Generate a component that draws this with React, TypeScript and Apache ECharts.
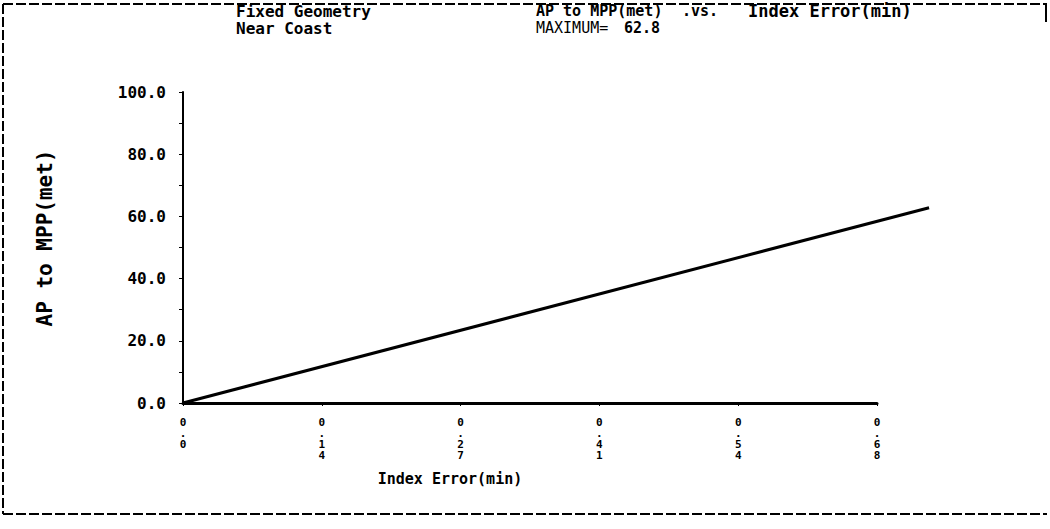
import React, { useEffect, useRef } from "react";
import * as echarts from "echarts";

const xValues = [0, 0.731];
const yValues = [0, 62.8];
const xTickStep = 0.136;
const xAxisMax = 0.68;
const yTickStep = 20;
const yMax = 100;
const titleLeft = ["Fixed Geometry", "Near Coast"];
const titleRight = ["AP to MPP(met)", ".vs.", "Index Error(min)"];
const maxLabel = "MAXIMUM=";
const maxValue = "62.8";
const xName = "Index Error(min)";
const yName = "AP to MPP(met)";

const FONT = "'DejaVu Sans Mono', 'Liberation Mono', monospace";

export default function App() {
  const ref = useRef<HTMLDivElement>(null);
  useEffect(() => {
    if (!ref.current) return;
    const chart = echarts.init(ref.current, null, { renderer: "svg" });
    const txt = (text: string, x: number, y: number, extra: any = {}) => ({
      type: "text",
      x,
      y,
      style: {
        text,
        fill: "#000",
        font: `bold 15px ${FONT}`,
        verticalAlign: "middle",
        ...extra,
      },
    });
    const dash = [10, 3];
    const dataMax = xValues[xValues.length - 1];
    // The plotted curve runs past the end of the drawn axis; grid 0 holds the
    // curve (same px-per-unit as the visible axis), grid 1 holds the visible axes.
    const pxPerUnit = (877 - 183) / xAxisMax;
    const rightData = 1050 - (183 + dataMax * pxPerUnit);
    chart.setOption({
      animation: false,
      backgroundColor: "#fff",
      grid: [
        { left: 183, right: rightData, top: 92, bottom: 126, containLabel: false },
        { left: 183, right: 173, top: 92, bottom: 126, containLabel: false },
      ],
      xAxis: [
        { gridIndex: 0, type: "value", min: 0, max: dataMax, show: false },
        {
          gridIndex: 1,
          type: "value",
          min: 0,
          max: xAxisMax,
          interval: xTickStep,
          axisLine: { show: true, lineStyle: { color: "#000", width: 3 } },
          axisTick: { show: true, length: 3, lineStyle: { color: "#000" } },
          splitLine: { show: false },
          axisLabel: {
            margin: 14,
            color: "#000",
            fontFamily: FONT,
            fontWeight: "bold",
            fontSize: 11,
            lineHeight: 11,
            formatter: (v: number) =>
              (v === 0 ? "0.0" : v.toFixed(2)).split("").join("\n"),
          },
        },
      ],
      yAxis: [
        { gridIndex: 0, type: "value", min: 0, max: yMax, show: false },
        {
          gridIndex: 1,
          type: "value",
          min: 0,
          max: yMax,
          interval: yTickStep,
          axisLine: { show: true, lineStyle: { color: "#000", width: 2 } },
          axisTick: { show: true, length: 4, lineStyle: { color: "#000" } },
          minorTick: { show: true, splitNumber: 2, length: 4, lineStyle: { color: "#000" } },
          splitLine: { show: false },
          axisLabel: {
            margin: 17,
            color: "#000",
            fontFamily: FONT,
            fontWeight: "bold",
            fontSize: 16,
            formatter: (v: number) => v.toFixed(1),
          },
        },
      ],
      series: [
        {
          type: "line",
          xAxisIndex: 0,
          yAxisIndex: 0,
          data: xValues.map((x, i) => [x, yValues[i]]),
          showSymbol: false,
          symbol: "none",
          lineStyle: { color: "#000", width: 3 },
        },
      ],
      graphic: [
        { type: "line", shape: { x1: 3, y1: 4, x2: 1047, y2: 4 }, style: { stroke: "#000", lineWidth: 2, lineDash: dash } },
        { type: "line", shape: { x1: 3, y1: 514, x2: 1047, y2: 514 }, style: { stroke: "#000", lineWidth: 2, lineDash: dash } },
        { type: "line", shape: { x1: 3, y1: 4, x2: 3, y2: 514 }, style: { stroke: "#000", lineWidth: 2, lineDash: dash } },
        { type: "line", shape: { x1: 1046, y1: 4, x2: 1046, y2: 22 }, style: { stroke: "#000", lineWidth: 2 } },
        txt(titleLeft[0], 236, 11, { font: `bold 16px ${FONT}` }),
        txt(titleLeft[1], 236, 28, { font: `bold 16px ${FONT}` }),
        txt(titleRight[0], 536, 11),
        txt(titleRight[1], 682, 11),
        txt(titleRight[2], 748, 11, { font: `bold 17px ${FONT}` }),
        txt(maxLabel, 536, 28, { font: `15px ${FONT}` }),
        txt(maxValue, 624, 28),
        txt(xName, 450, 479, { align: "center" }),
        {
          type: "text",
          x: 45,
          y: 238,
          rotation: Math.PI / 2,
          style: {
            text: yName,
            fill: "#000",
            font: `bold 21px ${FONT}`,
            align: "center",
            verticalAlign: "middle",
          },
        },
      ],
    });
    return () => chart.dispose();
  }, []);
  return (
    <div
      ref={ref}
      style={{ position: "absolute", left: 0, top: 0, width: 1050, height: 529 }}
    />
  );
}
